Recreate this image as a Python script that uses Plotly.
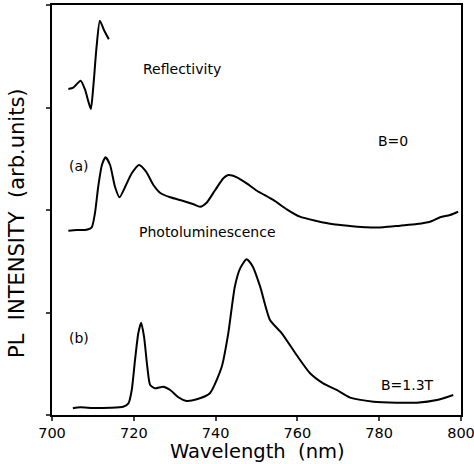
import plotly.graph_objects as go

# Reflectivity trace
refl_x = [704.0, 705.2, 707.0, 708.1, 708.9, 709.5, 710.1, 710.9, 711.7, 712.7, 713.9]
refl_y = [3.180, 3.193, 3.261, 3.171, 3.057, 2.985, 3.203, 3.593, 3.847, 3.756, 3.665]

# PL (a), B=0
pla_x = [704.0, 706.0, 708.1, 709.7, 710.5, 711.3, 712.2, 713.1, 714.2, 715.4, 716.5, 717.9,
         719.5, 721.3, 723.0, 724.8, 726.4, 728.9, 732.1, 734.6, 736.2, 737.8, 739.9, 741.9,
         743.1, 745.2, 747.6, 750.1, 754.1, 757.4, 760.6, 764.7, 768.8, 772.9, 776.9, 781.0,
         785.1, 789.2, 792.4, 794.9, 797.3, 799.3]
pla_y = [1.798, 1.805, 1.805, 1.831, 1.968, 2.227, 2.439, 2.514, 2.439, 2.227, 2.124, 2.227,
         2.358, 2.439, 2.374, 2.244, 2.169, 2.124, 2.088, 2.056, 2.032, 2.071, 2.195, 2.309,
         2.341, 2.319, 2.260, 2.188, 2.098, 2.007, 1.935, 1.893, 1.860, 1.844, 1.831, 1.831,
         1.847, 1.863, 1.886, 1.929, 1.951, 1.983]

# PL (b), B=1.3T
plb_x = [705.1, 706.9, 710.1, 714.2, 717.4, 718.7, 719.5, 720.3, 721.1, 721.8, 722.5, 723.3,
         724.0, 725.2, 727.2, 728.9, 730.9, 732.9, 735.4, 738.6, 741.5, 743.1, 744.7, 746.0,
         747.6, 749.1, 750.9, 753.3, 756.2, 759.8, 763.1, 766.3, 769.6, 772.9, 778.6, 784.3,
         789.2, 794.1, 798.1]
plb_y = [0.065, 0.075, 0.068, 0.071, 0.081, 0.114, 0.244, 0.537, 0.797, 0.900, 0.764, 0.471,
         0.293, 0.260, 0.276, 0.244, 0.173, 0.137, 0.153, 0.212, 0.471, 0.797, 1.252, 1.431,
         1.519, 1.447, 1.252, 0.927, 0.797, 0.585, 0.407, 0.309, 0.244, 0.169, 0.130, 0.120,
         0.120, 0.146, 0.195]

x_ticks = [700, 720, 740, 760, 780, 800]
y_ticks = [0, 1, 2, 3, 4]

labels = ["Reflectivity", "B=0", "(a)", "Photoluminescence", "(b)", "B=1.3T"]
label_x = [731.7, 783.4, 706.6, 737.9, 706.6, 786.9]
label_y = [3.376, 2.673, 2.432, 1.788, 0.748, 0.293]

x_title = "Wavelength  (nm)"
y_title = "PL  INTENSITY  (arb.units)"

FONT = "DejaVu Sans"
line = dict(color="black", width=2)

fig = go.Figure()
for xs, ys in [(refl_x, refl_y), (pla_x, pla_y), (plb_x, plb_y)]:
    fig.add_trace(go.Scatter(x=xs, y=ys, mode="lines", line=line, line_shape="spline",
                             line_smoothing=0.6, showlegend=False, hoverinfo="skip"))

for t, xv, yv in zip(labels, label_x, label_y):
    fig.add_annotation(x=xv, y=yv, text=t, showarrow=False, borderpad=0,
                       font=dict(family=FONT, size=14, color="black"))

fig.add_annotation(xref="paper", yref="paper", x=0.502, y=-0.089, text=x_title,
                   showarrow=False, xanchor="center", yanchor="middle", borderpad=0,
                   font=dict(family=FONT, size=19.5, color="black"))
fig.add_annotation(xref="paper", yref="paper", x=-0.087, y=0.467, text=y_title,
                   showarrow=False, xanchor="center", yanchor="middle", textangle=-90,
                   borderpad=0, font=dict(family=FONT, size=21, color="black"))

fig.update_layout(
    width=474, height=464,
    margin=dict(l=52, r=13, t=5, b=49, autoexpand=False),
    paper_bgcolor="white", plot_bgcolor="white",
    font=dict(family=FONT, color="black"),
    xaxis=dict(range=[700, 800], tickvals=x_ticks, ticks="outside", ticklen=4,
               tickwidth=1.5, showline=True, linecolor="black", linewidth=1.5,
               mirror=True, showgrid=False, zeroline=False, automargin=False,
               ticklabeloverflow="allow",
               tickfont=dict(family=FONT, size=14.5)),
    yaxis=dict(range=[0, 4], tickvals=y_ticks, showticklabels=False, ticks="outside",
               ticklen=4, tickwidth=1.5, showline=True, linecolor="black",
               linewidth=1.5, mirror=True, showgrid=False, zeroline=False,
               automargin=False),
)

fig.write_html("out.html", config={"displayModeBar": False},
               post_script="document.body.style.margin='0';")
